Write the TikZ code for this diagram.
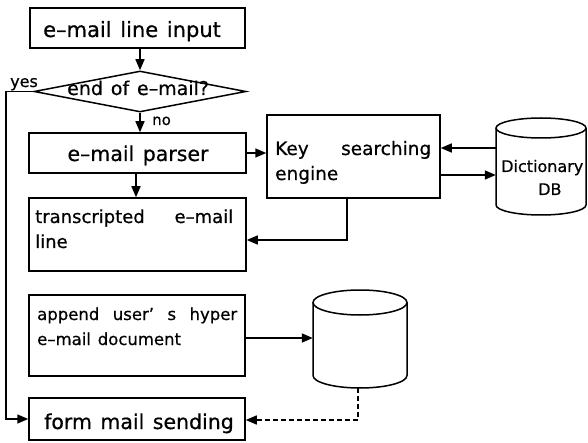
\documentclass[tikz,border=0pt]{standalone}
\usepackage{fontspec}
\setmainfont{DejaVu Sans}[WordSpace=1.3, FakeBold=0.6]
\usetikzlibrary{arrows.meta,shapes.geometric}
\begin{document}
\begin{tikzpicture}[x=1pt,y=-1pt,
  box/.style={draw, rectangle, line width=1.5pt, inner sep=0pt},
  txt/.style={inner sep=0pt, anchor=base west},
  ctxt/.style={inner sep=0pt, anchor=base},
  fa/.style={font=\fontsize{20.5}{24}\selectfont},
  fb/.style={font=\fontsize{18.5}{22}\selectfont},
  fc/.style={font=\fontsize{16.5}{19}\selectfont},
  fd/.style={font=\fontsize{15}{18}\selectfont},
  conn/.style={line width=1.5pt, -{Triangle[length=11pt,width=9pt]}},
  cyl/.style={line width=1.5pt}
]
\useasboundingbox (0,0) rectangle (588,443);

% boxes
\node[box, minimum width=215pt, minimum height=40pt] (b1) at (137.5,28) {};
\node[draw, diamond, line width=1.5pt, inner sep=0pt, minimum width=212pt, minimum height=41pt] (d) at (140,91.5) {};
\node[box, minimum width=217pt, minimum height=40pt] (p) at (137.5,153) {};
\node[box, minimum width=173pt, minimum height=83pt] (k) at (353.5,156.5) {};
\node[box, minimum width=217pt, minimum height=73pt] (t) at (137.5,234.5) {};
\node[box, minimum width=216pt, minimum height=81pt] (a) at (137,335.5) {};
\node[box, minimum width=216pt, minimum height=42pt] (f) at (137,419) {};
\node[inner sep=0pt, minimum width=90pt, minimum height=97pt] (db) at (541,166.5) {};
\node[inner sep=0pt, minimum width=94pt, minimum height=98pt] (c2) at (360,339) {};

% cylinders
\draw[cyl] (541,128) ellipse[x radius=45pt, y radius=10pt];
\draw[cyl] (496,128) -- (496,205) arc[start angle=180, end angle=360, x radius=45pt, y radius=10pt] -- (586,128);
\draw[cyl] (360,302.5) ellipse[x radius=47pt, y radius=12.5pt];
\draw[cyl] (313,302.5) -- (313,375.5) arc[start angle=180, end angle=360, x radius=47pt, y radius=12.5pt] -- (407,302.5);

% texts
\node[txt, font=\fontsize{21}{24}\selectfont] (t1) at (43,37) {e–mail line input};
\node[txt, font=\fontsize{19}{22}\selectfont] (td) at (67,95) {end of e–mail?};
\node[txt, font=\fontsize{16}{19}\selectfont] (ty) at (10,87) {yes};
\node[txt, fd] (tn) at (152,125) {no};
\node[ctxt, fa] (tp) at (138,161) {e–mail parser};
\node[txt, fb, text width=156pt] (tk1) at (275,155) {Key\hfill searching};
\node[txt, fb] (tk2) at (275,180) {engine};
\node[txt, font=\fontsize{16}{19}\selectfont] (tdb1) at (501,172) {Dictionary};
\node[txt, font=\fontsize{16}{19}\selectfont] (tdb2) at (538,195) {DB};
\node[txt, font=\fontsize{18}{22}\selectfont, text width=198pt] (tt1) at (35,223) {transcripted\hfill e–mail};
\node[txt, font=\fontsize{18}{22}\selectfont] (tt2) at (35,248) {line};
\node[txt, fc, text width=200pt] (ta1) at (37,320) {append\hfill user’\hfill s\hfill hyper};
\node[txt, fc] (ta2) at (37,345) {e–mail document};
\node[ctxt, fa] (tf) at (139,429) {form mail sending};

% helper coordinates
\coordinate (lc) at (6,0);
\coordinate (kt) at (347,240);
\coordinate (ya) at (0,338);
\coordinate (dc) at (358,420);
\coordinate (yin) at (0,148);
\coordinate (yout) at (0,175);

% connectors
\draw[conn] (d.north |- b1.south) -- (d.north);
\draw[conn] (d.south) -- (d.south |- p.north);
\draw[conn] (d.west) -- (d.west -| lc) -- (lc |- f.west) -- (f.west);
\draw[conn] (p.east) -- (p.east -| k.west);
\draw[conn] ([xshift=-1.5pt]p.south) -- ([xshift=-1.5pt]p.south |- t.north);
\draw[conn] (k.south -| kt) -- (kt) -- (kt -| t.east);
\draw[conn] (db.west |- yin) -- (k.east |- yin);
\draw[conn] (k.east |- yout) -- (db.west |- yout);
\draw[conn] (a.east |- ya) -- (c2.west |- ya);
\draw[conn, dash pattern=on 5pt off 3pt] (dc |- c2.south) -- (dc) -- (dc -| f.east);
\end{tikzpicture}
\end{document}
